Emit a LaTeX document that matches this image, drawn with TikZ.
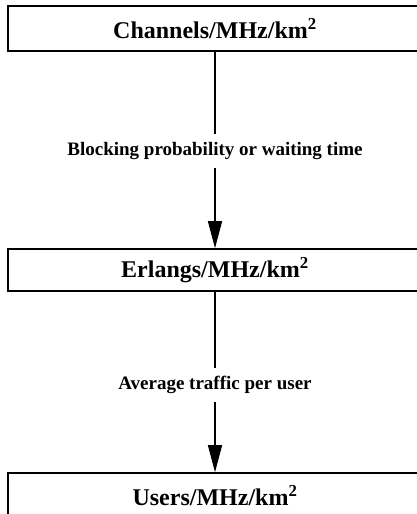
\documentclass[tikz,border=0pt]{standalone}
\usepackage{fontspec}
\setmainfont{Liberation Serif}
\usetikzlibrary{arrows.meta}
\begin{document}
\begin{tikzpicture}[x=1pt,y=1pt,
		unitbox/.style={draw,line width=1.6pt,rectangle,minimum width=414pt,inner sep=0pt,
			font=\fontsize{24}{28}\selectfont\bfseries},
		steplabel/.style={fill=white,inner xsep=2pt,inner ysep=8pt,
			font=\fontsize{19}{22}\selectfont\bfseries},
		flow/.style={line width=1.3pt},
		flowarrow/.style={flow,-{Triangle[length=27pt,width=14pt]}}]
	\clip (0,0) rectangle (417,514);
	\node[unitbox,minimum height=45pt] (chan) at (215,485.5) {Channels/MHz/km\textsuperscript{2}};
	\node[unitbox,minimum height=42pt] (erl) at (215,244) {Erlangs/MHz/km\textsuperscript{2}};
	\node[unitbox,minimum height=45pt] (users) at (215,18.5) {Users/MHz/km\textsuperscript{2}};
	%
	\node[steplabel] (block) at (215,363) {Blocking probability or waiting time};
	\node[steplabel] (traffic) at (215,129) {Average traffic per user};
	%
	\draw[flow] (chan) -- (block);
	\draw[flowarrow] (block) -- (erl);
	\draw[flow] (erl) -- (traffic);
	\draw[flowarrow] (traffic) -- (users);
\end{tikzpicture}
\end{document}
